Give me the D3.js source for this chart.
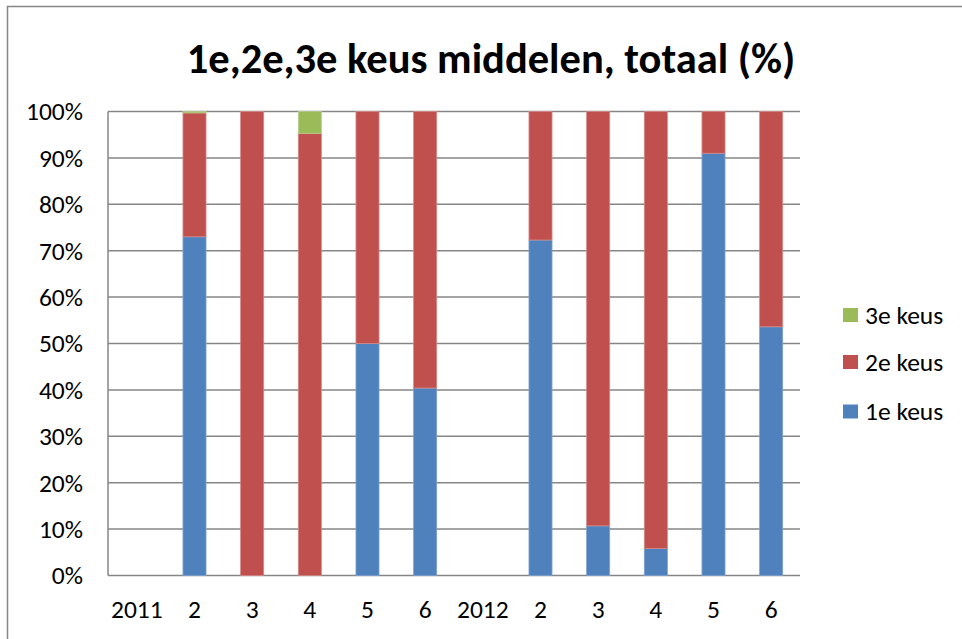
<!DOCTYPE html>
<html>
<head>
<meta charset="utf-8">
<script src="https://cdn.jsdelivr.net/npm/d3@7"></script>
<style>
  body { margin: 0; background: #fff; }
  svg text { font-family: Carlito, Calibri, Lato, sans-serif; fill: #000; }
</style>
</head>
<body>
<svg id="chart" width="962" height="639"></svg>
<script>
// categories along the x axis (two years, classes 2..6)
const cats = ["2011", "2", "3", "4", "5", "6", "2012", "2", "3", "4", "5", "6"];
// percentages per choice
const keus1 = [0, 73, 0, 0, 50, 40.4, 0, 72.3, 10.7, 5.8, 91, 53.6];
const keus2 = [0, 26.7, 100, 95.3, 50, 59.6, 0, 27.7, 89.3, 94.2, 9, 46.4];
const keus3 = [0, 0.3, 0, 4.7, 0, 0, 0, 0, 0, 0, 0, 0];
const seriesNames = ["1e keus", "2e keus", "3e keus"];
const colors = ["#4F81BD", "#C0504D", "#9BBB59"];
const edges = ["#7FA2D1", "#D58A88", "#B9D08D"];
const yTicks = [0, 10, 20, 30, 40, 50, 60, 70, 80, 90, 100];

const svg = d3.select("#chart");
const m = { left: 108, top: 111.5, right: 162, bottom: 63.5 };
const W = 962, H = 639;
const pw = W - m.left - m.right, ph = H - m.top - m.bottom;
const fs = 25.5;

// outer chart frame (right/bottom edges fall outside the window)
svg.append("rect")
  .attr("x", 7.5).attr("y", 6.5)
  .attr("width", 970).attr("height", 650)
  .attr("fill", "none").attr("stroke", "#868686").attr("stroke-width", 1.5);

// title
svg.append("text")
  .attr("x", 491).attr("y", 73)
  .attr("text-anchor", "middle")
  .attr("font-size", 42.5).attr("font-weight", "bold")
  .text("1e,2e,3e keus middelen, totaal (%)");

const g = svg.append("g").attr("transform", `translate(${m.left},${m.top})`);

const x = d3.scaleBand().domain(d3.range(cats.length)).range([0, pw]).paddingInner(0.6).paddingOuter(0.3);
const y = d3.scaleLinear().domain([0, 100]).range([ph, 0]);

// gridlines
g.append("g")
  .selectAll("line")
  .data(yTicks)
  .join("line")
  .attr("x1", 0).attr("x2", pw)
  .attr("y1", (d) => y(d)).attr("y2", (d) => y(d))
  .attr("stroke", "#868686").attr("stroke-width", 1.5);

// y axis line
g.append("line")
  .attr("x1", 0).attr("x2", 0).attr("y1", 0).attr("y2", ph)
  .attr("stroke", "#868686").attr("stroke-width", 1.5);

// y tick labels
g.append("g")
  .selectAll("text")
  .data(yTicks)
  .join("text")
  .attr("x", -25).attr("y", (d) => y(d))
  .attr("dy", "0.35em")
  .attr("text-anchor", "end")
  .attr("font-size", fs)
  .text((d) => d + "%");

// stacked bars
const rows = cats.map((c, i) => ({ i, k1: keus1[i], k2: keus2[i], k3: keus3[i] }));
const stack = d3.stack().keys(["k1", "k2", "k3"])(rows);

stack.forEach((layer, si) => {
  g.append("g")
    .selectAll("rect")
    .data(layer.filter((d) => d[1] - d[0] > 0))
    .join("rect")
    .attr("x", (d) => x(d.data.i))
    .attr("width", x.bandwidth())
    .attr("y", (d) => y(d[1]))
    .attr("height", (d) => y(d[0]) - y(d[1]))
    .attr("fill", colors[si])
    .attr("stroke", edges[si]).attr("stroke-width", 0.8);
});

// x labels
g.append("g")
  .selectAll("text")
  .data(cats)
  .join("text")
  .attr("x", (d, i) => x(i) + x.bandwidth() / 2)
  .attr("y", ph + 34)
  .attr("dy", "0.35em")
  .attr("text-anchor", "middle")
  .attr("font-size", fs)
  .text((d) => d);

// legend (reversed order, 3e on top)
const legY = [315, 362, 411.5];
const leg = svg.append("g");
[2, 1, 0].forEach((si, k) => {
  leg.append("rect")
    .attr("x", 843).attr("y", legY[k] - 7)
    .attr("width", 15).attr("height", 14)
    .attr("fill", colors[si]);
  leg.append("text")
    .attr("x", 865).attr("y", legY[k])
    .attr("dy", "0.35em")
    .attr("font-size", fs)
    .text(seriesNames[si]);
});
</script>
</body>
</html>
